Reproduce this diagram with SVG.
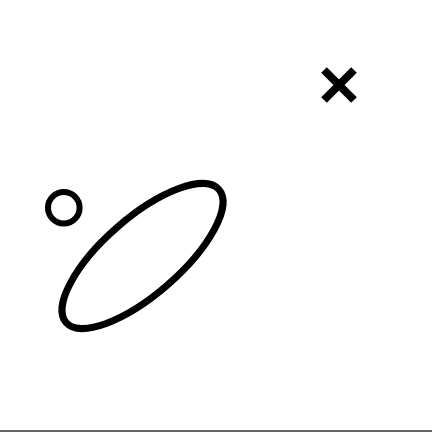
<svg xmlns="http://www.w3.org/2000/svg" width="432" height="432" viewBox="0 0 432 432">
<style>
.s{fill:none;stroke:#000}
</style>
<rect width="432" height="432" fill="#fff"/>
<g id="circle"><circle class="s" cx="63.8" cy="207.8" r="15.8" stroke-width="6"/></g>
<g id="ellipse"><ellipse class="s" cx="142.5" cy="256" rx="101.3" ry="38.3" stroke-width="7" transform="rotate(-41 142.5 256)"/></g>
<g id="cross"><path class="s" d="M324 70 L354 100 M354 70 L324 100" stroke-width="8"/></g>
<line x1="0" y1="431" x2="432" y2="431" stroke="#333" stroke-width="1.5"/>
</svg>
